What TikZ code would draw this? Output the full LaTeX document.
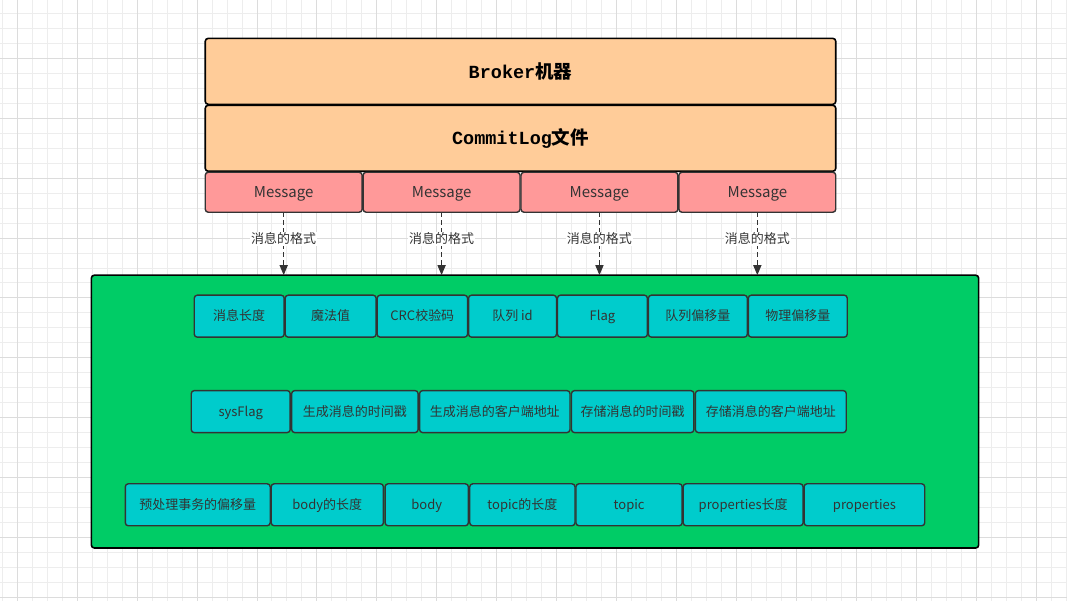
\documentclass[tikz,border=0pt]{standalone}
\usepackage{fontspec}
\usepackage{tikz}
\usetikzlibrary{arrows.meta}
\newfontfamily\cjk{Noto Sans CJK SC}
\newfontfamily\codefont{Liberation Mono}
\definecolor{boxorange}{HTML}{FFCC99}
\definecolor{boxpink}{HTML}{FF9999}
\definecolor{boxgreen}{HTML}{00CC66}
\definecolor{boxcyan}{HTML}{00CCCC}
\definecolor{edgegray}{HTML}{333333}
\definecolor{gridminor}{HTML}{EDEDED}
\definecolor{gridmajor}{HTML}{DCDCDC}

\begin{document}
\begin{tikzpicture}[x=1pt,y=-1pt]
  \tikzset{LayerStyle/.style = {
    shape         = rectangle,
    draw          = black,
    fill          = boxorange,
    line width    = 1.6pt,
    rounded corners = 3pt,
    text          = black,
    inner sep     = 0pt,
    outer sep     = 0pt,
    minimum width = 631,
    minimum height= 66,
    font          = \fontsize{18.5}{20}\selectfont\bfseries
    }
  }
  \tikzset{MessageStyle/.style = {
    shape         = rectangle,
    draw          = edgegray,
    fill          = boxpink,
    line width    = 1.4pt,
    rounded corners = 3pt,
    text          = edgegray,
    inner sep     = 0pt,
    outer sep     = 0pt,
    minimum width = 157,
    minimum height= 40,
    text height   = 1.15em,
    text depth    = 0.2em,
    font          = \cjk\fontsize{15}{17}\selectfont
    }
  }
  \tikzset{FormatStyle/.style = {
    shape         = rectangle,
    draw          = black,
    fill          = boxgreen,
    line width    = 1.6pt,
    rounded corners = 3pt,
    inner sep     = 0pt,
    outer sep     = 0pt,
    minimum width = 888,
    minimum height= 273
    }
  }
  \tikzset{FieldStyle/.style = {
    shape         = rectangle,
    draw          = edgegray,
    fill          = boxcyan,
    line width    = 1.4pt,
    rounded corners = 3pt,
    text          = edgegray,
    inner sep     = 0pt,
    outer sep     = 0pt,
    minimum height= 42,
    text height   = 1.15em,
    text depth    = 0.2em,
    font          = \cjk\fontsize{13}{15}\selectfont
    }
  }
  \tikzset{EdgeStyle/.style = {
    draw          = edgegray,
    line width    = 1.4pt,
    dash pattern  = on 5pt off 3pt,
    -{Triangle[width=8pt,length=10pt]}
    }
  }
  \tikzset{EdgeLabelStyle/.style = {
    fill          = white,
    text          = edgegray,
    inner sep     = 1pt,
    font          = \cjk\fontsize{13}{15}\selectfont
    }
  }

  % background grid
  \fill[white] (0,0) rectangle (1067,601);
  \foreach \gx in {1.7,16.7,...,1066.7}
    \draw[gridminor, line width=0.8pt] (\gx,0) -- (\gx,601);
  \foreach \gy in {12.7,27.7,...,600.7}
    \draw[gridminor, line width=0.8pt] (0,\gy) -- (1067,\gy);
  \foreach \gx in {16.7,76.7,...,1066.7}
    \draw[gridmajor, line width=0.8pt] (\gx,0) -- (\gx,601);
  \foreach \gy in {57.7,117.7,...,600.7}
    \draw[gridmajor, line width=0.8pt] (0,\gy) -- (1067,\gy);
  \useasboundingbox (0,0) rectangle (1067,601);

  % broker and commit log
  \node[LayerStyle](Broker) at (520.5, 71) {{\codefont Broker}{\cjk 机器}};
  \node[LayerStyle](CommitLog) at (520.5, 138) {{\codefont CommitLog}{\cjk 文件}};
  \node[MessageStyle](Msg1) at (283.5, 192) {Message};
  \node[MessageStyle](Msg2) at (441.5, 192) {Message};
  \node[MessageStyle](Msg3) at (599.5, 192) {Message};
  \node[MessageStyle](Msg4) at (757.5, 192) {Message};

  % message format
  \node[FormatStyle](Format) at (535, 411.5) {};

  \node[FieldStyle, minimum width=90](F1) at (239, 316) {消息长度};
  \node[FieldStyle, minimum width=91](F2) at (330.5, 316) {魔法值};
  \node[FieldStyle, minimum width=90.5](F3) at (422.25, 316) {CRC校验码};
  \node[FieldStyle, minimum width=88](F4) at (512.5, 316) {队列 id};
  \node[FieldStyle, minimum width=90](F5) at (602.5, 316) {Flag};
  \node[FieldStyle, minimum width=99](F6) at (698, 316) {队列偏移量};
  \node[FieldStyle, minimum width=99](F7) at (798, 316) {物理偏移量};

  \node[FieldStyle, minimum width=99](G1) at (240.5, 411.5) {sysFlag};
  \node[FieldStyle, minimum width=126.5](G2) at (354.75, 411.5) {生成消息的时间戳};
  \node[FieldStyle, minimum width=150.5](G3) at (494.75, 411.5) {生成消息的客户端地址};
  \node[FieldStyle, minimum width=122.5](G4) at (632.75, 411.5) {存储消息的时间戳};
  \node[FieldStyle, minimum width=151](G5) at (771, 411.5) {存储消息的客户端地址};

  \node[FieldStyle, minimum width=145](H1) at (197.5, 504.75) {预处理事务的偏移量};
  \node[FieldStyle, minimum width=112.3](H2) at (327.15, 504.75) {body的长度};
  \node[FieldStyle, minimum width=83.3](H3) at (426.65, 504.75) {body};
  \node[FieldStyle, minimum width=105.3](H4) at (522.35, 504.75) {topic的长度};
  \node[FieldStyle, minimum width=106.3](H5) at (629.15, 504.75) {topic};
  \node[FieldStyle, minimum width=120](H6) at (743.3, 504.75) {properties长度};
  \node[FieldStyle, minimum width=120.7](H7) at (864.65, 504.75) {properties};

  \draw[EdgeStyle](Msg1.south) -- node[EdgeLabelStyle, pos=0.42]{消息的格式} (Msg1.south |- Format.north);
  \draw[EdgeStyle](Msg2.south) -- node[EdgeLabelStyle, pos=0.42]{消息的格式} (Msg2.south |- Format.north);
  \draw[EdgeStyle](Msg3.south) -- node[EdgeLabelStyle, pos=0.42]{消息的格式} (Msg3.south |- Format.north);
  \draw[EdgeStyle](Msg4.south) -- node[EdgeLabelStyle, pos=0.42]{消息的格式} (Msg4.south |- Format.north);

\end{tikzpicture}
\end{document}
